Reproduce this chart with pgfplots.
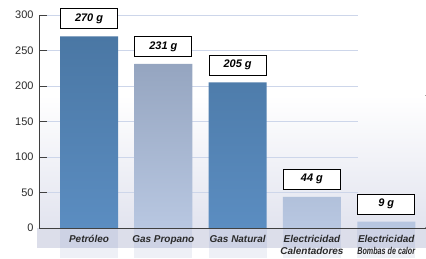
\documentclass[border=0pt]{standalone}
\usepackage{fontspec}
\setmainfont{Liberation Sans}
\usepackage{graphicx}
\usepackage{pgfplots}
\pgfplotsset{compat=1.18}
\definecolor{darkTop}{HTML}{4A77A4}
\definecolor{darkBot}{HTML}{5B8DC1}
\definecolor{lightTop}{HTML}{95A5C0}
\definecolor{lightBot}{HTML}{B8C7E1}
\definecolor{axisgray}{HTML}{404040}
\definecolor{labelgray}{HTML}{2A2A2A}
\definecolor{gridcol}{HTML}{CDD6EA}
\definecolor{bgbot}{HTML}{E2E4EF}
\definecolor{band}{HTML}{DCDEEA}
\definecolor{bandbar}{HTML}{CDD2E4}
\definecolor{refl}{HTML}{EEF0F6}
\pgfplotsset{common/.style={
  at={(39bp,30bp)}, anchor=south west,
  scale only axis, width=386.5bp, height=213bp,
  xmin=-0.673, xmax=4.528, ymin=0, ymax=300,
  clip=false}}
\begin{document}
\begin{tikzpicture}
\path (0,0) rectangle (426bp,258bp);
% background decoration
\begin{axis}[common, hide axis]
  \fill[top color=white, bottom color=bgbot] (axis cs:-0.673,0) rectangle (axis cs:4.528,187);
  \fill[band] (axis cs:-0.70,0) rectangle (axis cs:4.528,-28.2);
  \pgfplotsinvokeforeach{0,1,2,3,4}{
    \fill[bandbar] (axis cs:#1-0.39,0) rectangle (axis cs:#1+0.39,-28.2);
    \fill[refl] (axis cs:#1-0.39,-28.2) rectangle (axis cs:#1+0.39,-42.3);
  }
  \pgfplotsinvokeforeach{50,100,...,300}{
    \draw[gridcol, line width=0.9bp] (axis cs:-0.62,#1) -- (axis cs:3.62,#1);
  }
\end{axis}
\begin{axis}[
  common,
  axis lines=left,
  axis line style={-, draw=axisgray, line width=0.8bp},
  ytick={0,50,...,300},
  tick align=inside, major tick length=8bp,
  ytick style={draw=axisgray, line width=0.8bp},
  yticklabel style={font=\fontsize{11}{13}\selectfont, text=labelgray,
    /pgf/number format/assume math mode=true, xshift=-2bp},
  xtick={0,1,2,3,4}, xtick style={draw=none},
  xticklabels={Petróleo, Gas Propano, Gas Natural, {Electricidad\\Calentadores}, {Electricidad\\\scalebox{0.72}[1]{Bombas de calor}}},
  xticklabel style={font=\fontsize{10}{12.5}\selectfont\bfseries\itshape, text=labelgray,
    align=center, anchor=north, inner sep=0pt, yshift=-7bp},
  nodes near coords={\pgfmathprintnumber[assume math mode=true]{\pgfplotspointmeta}\ g},
  every node near coord/.append style={draw=black, fill=white, line width=0.8bp,
    minimum width=57bp, minimum height=20bp, inner sep=0pt, anchor=south, yshift=7bp,
    font=\fontsize{11}{13}\selectfont\bfseries\itshape, text=black},
]
\addplot[ybar, bar width=58bp, bar shift=0pt, draw=none, top color=darkTop, bottom color=darkBot]
  coordinates {(0,270) (2,205)};
\addplot[ybar, bar width=58bp, bar shift=0pt, draw=none, top color=lightTop, bottom color=lightBot]
  coordinates {(1,231) (3,44) (4,9)};
\end{axis}
\end{tikzpicture}
\end{document}
